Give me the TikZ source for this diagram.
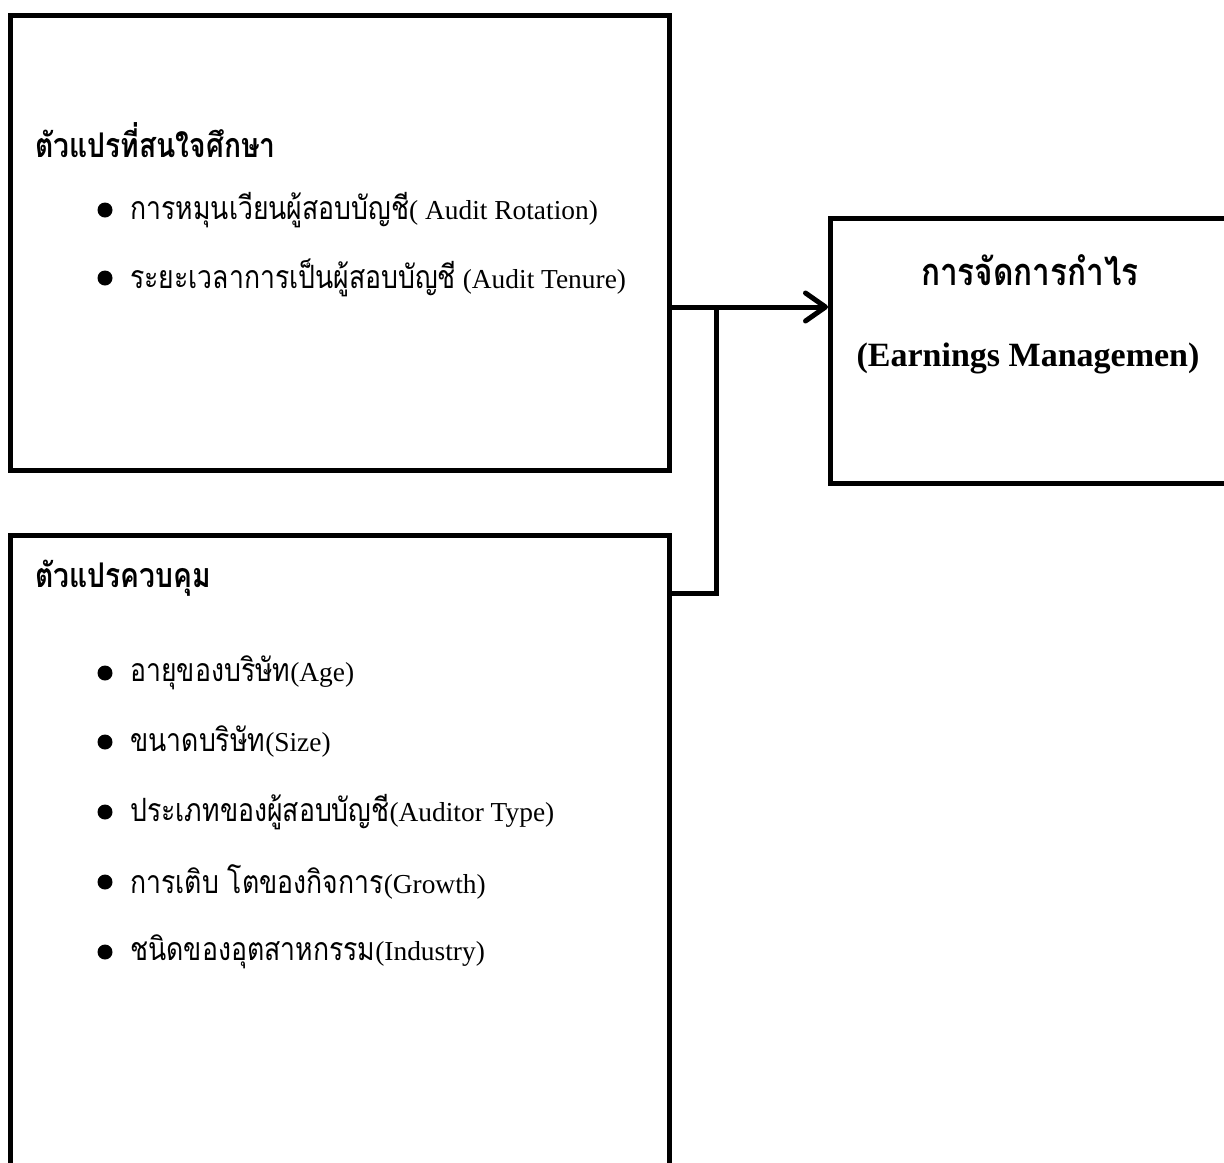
\documentclass[tikz,border=0pt]{standalone}
\usepackage{fontspec}
\setmainfont{Liberation Serif}
\newfontfamily\thaifont[Script=Thai, Scale=1.17, FakeStretch=0.83]{Loma}
\newfontfamily\thaihead[Script=Thai, FakeStretch=0.83]{Loma}
\usetikzlibrary{arrows.meta}
\tikzset{
  box/.style={draw=black, line width=2.5pt, fill=none},
  conn/.style={line width=2.5pt},
  dot/.style={circle, fill=black, inner sep=0pt, minimum size=7.5pt},
  item/.style={anchor=west, inner sep=0pt, font=\fontsize{13.7}{16}\selectfont},
  head/.style={anchor=west, inner sep=0pt, font=\fontsize{17}{20}\selectfont\bfseries},
  big/.style={anchor=center, inner sep=0pt, font=\fontsize{17}{20}\selectfont\bfseries}
}
\begin{document}
\begin{tikzpicture}[x=0.5pt,y=-0.5pt]
\useasboundingbox (0,0) rectangle (1224,1162);
\clip (0,0) rectangle (1224,1162);
% boxes
\draw[box] (10,15) rectangle (669,470);
\draw[box] (10,535) rectangle (669,1180);
\draw[box] (830,218) rectangle (1240,483);
\coordinate (b1) at (669,307);
\coordinate (j) at (716,307);
\coordinate (jb) at (716,593);
\coordinate (b2) at (669,593);
\coordinate (b3) at (828,307);
% text box 1
\node[head] (h1) at (35,140) {\thaihead ตัวแปรที่สนใจศึกษา};
\node[dot] (d1) at (105,210) {};
\node[item] (t1) at (130,210) {{\thaifont การหมุนเวียนผู้สอบบัญชี}( Audit Rotation)};
\node[dot] (d2) at (105,278) {};
\node[item] (t2) at (130,278) {{\thaifont ระยะเวลาการเป็นผู้สอบบัญชี} (Audit Tenure)};
% text box 2
\node[head] (h2) at (35,578) {\thaihead ตัวแปรควบคุม};
\node[dot] (d3) at (105,673) {};
\node[item] (t3) at (130,673) {{\thaifont อายุของบริษัท}(Age)};
\node[dot] (d4) at (105,742) {};
\node[item] (t4) at (130,742) {{\thaifont ขนาดบริษัท}(Size)};
\node[dot] (d5) at (105,812) {};
\node[item] (t5) at (130,812) {{\thaifont ประเภทของผู้สอบบัญชี}(Auditor Type)};
\node[dot] (d6) at (105,882) {};
\node[item] (t6) at (130,882) {{\thaifont การเติบ โตของกิจการ}(Growth)};
\node[dot] (d7) at (105,952) {};
\node[item] (t7) at (130,952) {{\thaifont ชนิดของอุตสาหกรรม}(Industry)};
% text box 3
\node[big, font=\fontsize{19}{22}\selectfont\bfseries] (r1) at (1030,270) {\thaihead การจัดการกำไร};
\node[big] (r2) at (1028,358) {(Earnings Managemen)};
% connectors
\draw[conn, -{Straight Barb[length=10pt,width=14pt,line width=2.5pt,round]}] (b1) -- (b3);
\draw[conn, line join=miter] (j) -- (jb) -- (b2);
\end{tikzpicture}
\end{document}
